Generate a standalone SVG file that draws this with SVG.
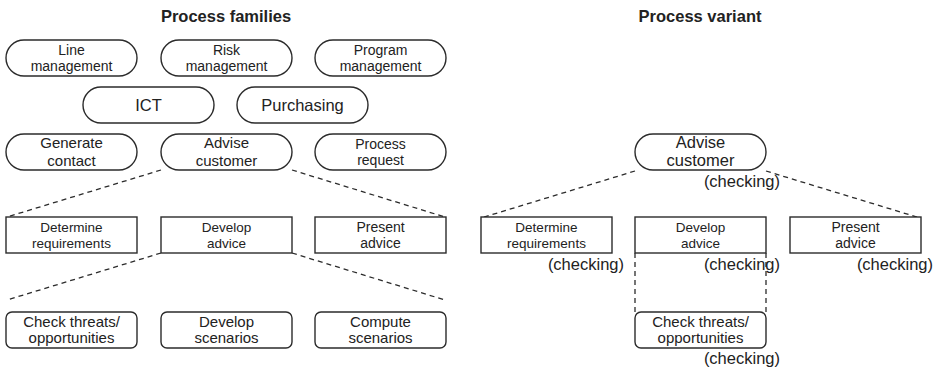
<svg xmlns="http://www.w3.org/2000/svg" width="934" height="370" viewBox="0 0 934 370">
<style>
.shape{fill:#fff;stroke:#2b2b2b;stroke-width:1.4}
.dash{fill:none;stroke:#2b2b2b;stroke-width:1.3;stroke-dasharray:5,4}
text{font-family:"Liberation Sans",Arial,sans-serif;fill:#222;text-anchor:middle}
.title{font-size:16.5px;font-weight:bold}
.t14{font-size:14px}
.t13{font-size:13.5px}
.t15{font-size:15px}
.t16{font-size:16.5px}
.chk{font-size:16.5px;text-anchor:end}
</style>
<rect width="934" height="370" fill="#fff"/>
<text class="title" x="226" y="22">Process families</text>
<text class="title" x="700" y="22">Process variant</text>

<g id="connectors">
<line class="dash" x1="161" y1="170" x2="7" y2="217"/>
<line class="dash" x1="292" y1="170" x2="445" y2="217"/>
<line class="dash" x1="161" y1="253" x2="7" y2="300"/>
<line class="dash" x1="292" y1="253" x2="445" y2="300"/>
<line class="dash" x1="635" y1="171" x2="481" y2="218"/>
<line class="dash" x1="766" y1="171" x2="920" y2="218"/>
<line class="dash" x1="635" y1="253" x2="635" y2="313"/>
<line class="dash" x1="766" y1="253" x2="766" y2="313"/>
</g>

<g id="line-management"><rect class="shape" x="6" y="40" width="131" height="36" rx="18"/><text class="t14" x="71.5" y="55">Line</text><text class="t14" x="71.5" y="71">management</text></g>
<g id="risk-management"><rect class="shape" x="161" y="40" width="131" height="36" rx="18"/><text class="t14" x="226.5" y="55">Risk</text><text class="t14" x="226.5" y="71">management</text></g>
<g id="program-management"><rect class="shape" x="315" y="40" width="131" height="36" rx="18"/><text class="t14" x="380.5" y="55">Program</text><text class="t14" x="380.5" y="71">management</text></g>
<g id="ict"><rect class="shape" x="83" y="87" width="131" height="36" rx="18"/><text class="t16" x="148.5" y="111">ICT</text></g>
<g id="purchasing"><rect class="shape" x="237" y="87" width="131" height="36" rx="18"/><text class="t16" x="302.5" y="111">Purchasing</text></g>
<g id="generate-contact"><rect class="shape" x="6" y="134" width="131" height="36" rx="18"/><text class="t15" x="71.5" y="148">Generate</text><text class="t15" x="71.5" y="166">contact</text></g>
<g id="advise-customer"><rect class="shape" x="161" y="134" width="131" height="36" rx="18"/><text class="t15" x="226.5" y="148">Advise</text><text class="t15" x="226.5" y="166">customer</text></g>
<g id="process-request"><rect class="shape" x="315" y="134" width="131" height="36" rx="18"/><text class="t14" x="380.5" y="149">Process</text><text class="t14" x="380.5" y="165">request</text></g>
<g id="determine-requirements"><rect class="shape" x="6" y="217" width="131" height="36"/><text class="t13" x="71.5" y="232">Determine</text><text class="t13" x="71.5" y="248">requirements</text></g>
<g id="develop-advice"><rect class="shape" x="161" y="217" width="131" height="36"/><text class="t13" x="226.5" y="232">Develop</text><text class="t13" x="226.5" y="248">advice</text></g>
<g id="present-advice"><rect class="shape" x="315" y="217" width="131" height="36"/><text class="t14" x="380.5" y="232">Present</text><text class="t14" x="380.5" y="248">advice</text></g>
<g id="check-threats"><rect class="shape" x="6" y="312" width="131" height="36" rx="6"/><text class="t15" x="71.5" y="327">Check threats/</text><text class="t15" x="71.5" y="343">opportunities</text></g>
<g id="develop-scenarios"><rect class="shape" x="161" y="312" width="131" height="36" rx="6"/><text class="t15" x="226.5" y="327">Develop</text><text class="t15" x="226.5" y="343">scenarios</text></g>
<g id="compute-scenarios"><rect class="shape" x="315" y="312" width="131" height="36" rx="6"/><text class="t15" x="380.5" y="327">Compute</text><text class="t15" x="380.5" y="343">scenarios</text></g>

<g id="v-advise-customer"><rect class="shape" x="635" y="134" width="131" height="36" rx="18"/><text class="t16" x="700.5" y="148">Advise</text><text class="t16" x="700.5" y="166">customer</text><text class="chk" x="780" y="187">(checking)</text></g>
<g id="v-determine-requirements"><rect class="shape" x="481" y="217" width="131" height="36"/><text class="t13" x="546.5" y="232">Determine</text><text class="t13" x="546.5" y="248">requirements</text><text class="chk" x="624" y="270">(checking)</text></g>
<g id="v-develop-advice"><rect class="shape" x="635" y="217" width="131" height="36"/><text class="t13" x="700.5" y="232">Develop</text><text class="t13" x="700.5" y="248">advice</text><text class="chk" x="780" y="270">(checking)</text></g>
<g id="v-present-advice"><rect class="shape" x="790" y="217" width="131" height="36"/><text class="t14" x="855.5" y="232">Present</text><text class="t14" x="855.5" y="248">advice</text><text class="chk" x="933" y="270">(checking)</text></g>
<g id="v-check-threats"><rect class="shape" x="635" y="312" width="131" height="36" rx="6"/><text class="t15" x="700.5" y="327">Check threats/</text><text class="t15" x="700.5" y="343">opportunities</text><text class="chk" x="780" y="364">(checking)</text></g>
</svg>
